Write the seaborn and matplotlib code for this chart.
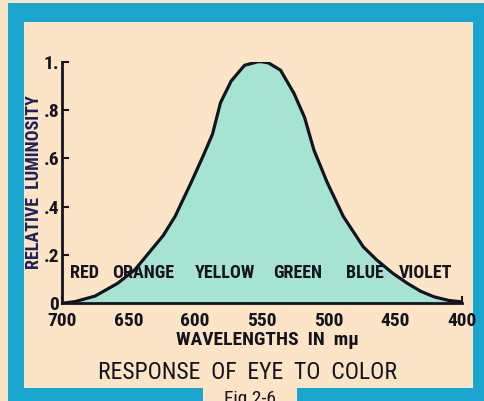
import matplotlib
matplotlib.use("Agg")
import matplotlib.pyplot as plt
from matplotlib.patches import Rectangle
import seaborn as sns
import pandas as pd

# ---- data ----
wavelengths = [700, 690, 675, 658, 645, 633, 624, 615, 603, 594, 587, 581, 573,
               563, 553, 550, 545, 536, 526, 518, 511, 501, 489, 474, 464, 452,
               441, 431, 421, 410, 402, 400]
luminosity = [0.0, 0.007, 0.03, 0.083, 0.14, 0.22, 0.28, 0.36, 0.50, 0.61, 0.70,
              0.83, 0.92, 0.985, 1.0, 1.0, 0.995, 0.965, 0.87, 0.77, 0.635, 0.50,
              0.36, 0.234, 0.18, 0.125, 0.083, 0.05, 0.027, 0.012, 0.007, 0.005]
color_names = ["RED", "ORANGE", "YELLOW", "GREEN", "BLUE", "VIOLET"]
color_pos = [683, 639, 577.5, 523, 473, 427]
xticks = [700, 650, 600, 550, 500, 450, 400]
yticks = [0, 0.2, 0.4, 0.6, 0.8, 1.0]
ytick_labels = ["0", ".2", ".4", ".6", ".8", "1."]

df = pd.DataFrame({"wavelength": wavelengths, "lum": luminosity})

PEACH = "#fce4c6"
TEAL = "#1ba6cf"
FILL = "#a6e3d2"
INK = "#141420"
NAVY = "#1b2358"

sns.set_style("ticks")
plt.rcParams["font.family"] = ["Roboto Condensed", "Roboto", "DejaVu Sans"]
plt.rcParams["font.weight"] = "bold"

fig = plt.figure(figsize=(4.84, 4.01), dpi=100)
fig.patch.set_facecolor(PEACH)

# frame
fig.patches.append(Rectangle((0.0165, 0.0), 1.0, 0.9925, transform=fig.transFigure,
                             facecolor=TEAL, edgecolor="none", zorder=-3))
fig.patches.append(Rectangle((0.0496, 0.0324), 0.977 - 0.0496, 0.945 - 0.0324,
                             transform=fig.transFigure, facecolor=PEACH,
                             edgecolor="none", zorder=-2))
fig.patches.append(Rectangle((0.419, 0.0), 0.614 - 0.419, 0.0324,
                             transform=fig.transFigure, facecolor=PEACH,
                             edgecolor="none", zorder=-2))

ax = fig.add_axes([0.1275, 0.2436, 0.827, 0.6025])
ax.set_facecolor("none")

ax.fill_between(df["wavelength"], df["lum"], 0, color=FILL, linewidth=0, zorder=1)
sns.lineplot(data=df, x="wavelength", y="lum", ax=ax, color=INK, linewidth=2.3,
             zorder=2, solid_joinstyle="round", solid_capstyle="round")

for name, pos in zip(color_names, color_pos):
    ax.text(pos, 0.125, name, ha="center", va="center", fontsize=13,
            fontweight="bold", color=INK, zorder=3)

ax.set_xlim(700, 400)
ax.set_ylim(0, 1)
ax.set_xticks(xticks)
ax.set_xticklabels([str(x) for x in xticks])
ax.set_yticks(yticks)
ax.set_yticklabels(ytick_labels)
ax.tick_params(axis="x", direction="in", length=5, width=1.5, pad=6,
               labelsize=14, colors=INK)
ax.tick_params(axis="y", direction="in", length=5, width=1.5, pad=2,
               labelsize=14, colors=INK)
for lab in ax.get_xticklabels() + ax.get_yticklabels():
    lab.set_fontweight("bold")

sns.despine(ax=ax, top=True, right=True)
for s in ["left", "bottom"]:
    ax.spines[s].set_linewidth(2)
    ax.spines[s].set_color(INK)

ax.set_xlabel("")
ax.set_ylabel("")
fig.text(0.071, 0.545, "RELATIVE  LUMINOSITY", rotation=90, ha="center",
         va="center", fontsize=13, fontweight="bold", color=NAVY)
fig.text(0.552, 0.152, "WAVELENGTHS  IN  mμ", ha="center", va="center",
         fontsize=14, fontweight="bold", color=INK)
fig.text(0.512, 0.072, "RESPONSE  OF  EYE  TO  COLOR", ha="center", va="center",
         fontsize=17, fontweight="normal", color=INK)
fig.text(0.517, 0.004, "Fig 2-6", ha="center", va="center", fontsize=14,
         fontweight="normal", color=INK)

fig.savefig("out.png", dpi=100, facecolor=PEACH)
